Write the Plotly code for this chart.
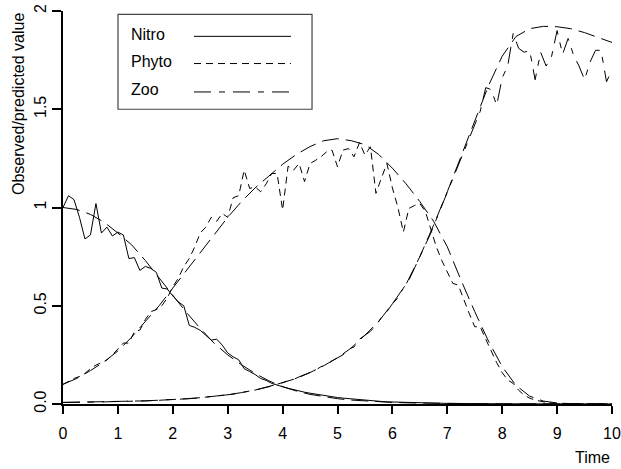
import plotly.graph_objects as go

# ---------------- data ----------------
time_obs = [0.0, 0.1, 0.2, 0.3, 0.4, 0.5, 0.6, 0.7, 0.8, 0.9,
            1.0, 1.1, 1.2, 1.3, 1.4, 1.5, 1.6, 1.7, 1.8, 1.9,
            2.0, 2.1, 2.2, 2.3, 2.4, 2.5, 2.6, 2.7, 2.8, 2.9,
            3.0, 3.1, 3.2, 3.3, 3.4, 3.5, 3.6, 3.7, 3.8, 3.9,
            4.0, 4.1, 4.2, 4.3, 4.4, 4.5, 4.6, 4.7, 4.8, 4.9,
            5.0, 5.1, 5.2, 5.3, 5.4, 5.5, 5.6, 5.7, 5.8, 5.9,
            6.0, 6.1, 6.2, 6.3, 6.4, 6.5, 6.6, 6.7, 6.8, 6.9,
            7.0, 7.1, 7.2, 7.3, 7.4, 7.5, 7.6, 7.7, 7.8, 7.9,
            8.0, 8.1, 8.2, 8.3, 8.4, 8.5, 8.6, 8.7, 8.8, 8.9,
            9.0, 9.1, 9.2, 9.3, 9.4, 9.5, 9.6, 9.7, 9.8, 9.9,
            10.0]

nitro_obs = [1.00, 1.06, 1.04, 0.95, 0.84, 0.86, 1.02, 0.87, 0.90, 0.855,
             0.875, 0.86, 0.74, 0.745, 0.68, 0.70, 0.69, 0.67, 0.59, 0.585,
             0.55, 0.52, 0.50, 0.40, 0.39, 0.375, 0.35, 0.325, 0.33, 0.30,
             0.26, 0.24, 0.225, 0.18, 0.165, 0.15, 0.13, 0.12, 0.105, 0.095,
             0.088, 0.08, 0.072, 0.066, 0.06, 0.055, 0.05, 0.045, 0.04, 0.036,
             0.033, 0.03, 0.027, 0.024, 0.021, 0.019, 0.017, 0.015, 0.013, 0.011,
             0.010, 0.009, 0.008, 0.007, 0.006, 0.005, 0.005, 0.004, 0.004, 0.003,
             0.003, 0.003, 0.002, 0.002, 0.002, 0.002, 0.002, 0.001, 0.001, 0.001,
             0.001, 0.001, 0.001, 0.001, 0.001, 0.0, 0.0, 0.0, 0.0, 0.0,
             0.0, 0.0, 0.0, 0.0, 0.0, 0.0, 0.0, 0.0, 0.0, 0.0,
             0.0]

phyto_obs = [0.10, 0.115, 0.13, 0.14, 0.156, 0.18, 0.198, 0.21, 0.224, 0.25,
             0.28, 0.31, 0.31, 0.368, 0.376, 0.43, 0.47, 0.48, 0.50, 0.54,
             0.597, 0.64, 0.70, 0.74, 0.80, 0.87, 0.90, 0.95, 0.93, 0.97,
             0.95, 1.05, 1.06, 1.19, 1.097, 1.105, 1.08, 1.12, 1.173, 1.173,
             0.987, 1.21, 1.19, 1.224, 1.132, 1.224, 1.24, 1.258, 1.283, 1.292,
             1.207, 1.292, 1.30, 1.258, 1.33, 1.267, 1.309, 1.072, 1.15, 1.224,
             1.10, 1.00, 0.875, 0.995, 1.01, 1.02, 0.98, 0.885, 0.80, 0.73,
             0.67, 0.614, 0.605, 0.53, 0.46, 0.393, 0.393, 0.33, 0.27, 0.21,
             0.16, 0.122, 0.105, 0.07, 0.045, 0.03, 0.02, 0.012, 0.008, 0.005,
             0.003, 0.002, 0.002, 0.001, 0.001, 0.001, 0.001, 0.0, 0.0, 0.0,
             0.0]

zoo_obs = [0.008, 0.008, 0.009, 0.009, 0.009, 0.010, 0.010, 0.011, 0.011, 0.012,
           0.012, 0.013, 0.014, 0.014, 0.015, 0.016, 0.017, 0.018, 0.019, 0.021,
           0.022, 0.024, 0.025, 0.027, 0.029, 0.032, 0.034, 0.037, 0.040, 0.044,
           0.047, 0.050, 0.056, 0.060, 0.066, 0.071, 0.078, 0.085, 0.091, 0.100,
           0.108, 0.118, 0.125, 0.138, 0.150, 0.158, 0.172, 0.190, 0.200, 0.220,
           0.235, 0.250, 0.280, 0.290, 0.330, 0.350, 0.370, 0.400, 0.440, 0.470,
           0.510, 0.540, 0.590, 0.630, 0.690, 0.750, 0.810, 0.870, 0.940, 1.010,
           1.080, 1.150, 1.220, 1.290, 1.350, 1.430, 1.490, 1.610, 1.600, 1.520,
           1.660, 1.720, 1.885, 1.810, 1.790, 1.800, 1.650, 1.790, 1.720, 1.770,
           1.900, 1.780, 1.860, 1.775, 1.720, 1.650, 1.740, 1.800, 1.800, 1.640,
           1.700]

time_pred = [0.0, 0.25, 0.5, 0.75, 1.0, 1.25, 1.5, 1.75, 2.0, 2.25,
             2.5, 2.75, 3.0, 3.25, 3.5, 3.75, 4.0, 4.25, 4.5, 4.75,
             5.0, 5.25, 5.5, 5.75, 6.0, 6.25, 6.5, 6.75, 7.0, 7.25,
             7.5, 7.75, 8.0, 8.25, 8.5, 8.75, 9.0, 9.25, 9.5, 9.75,
             10.0]

nitro_pred = [1.00, 0.99, 0.965, 0.925, 0.87, 0.81, 0.73, 0.64, 0.55, 0.465,
              0.385, 0.31, 0.25, 0.20, 0.155, 0.118, 0.088, 0.066, 0.049, 0.037,
              0.027, 0.020, 0.015, 0.011, 0.008, 0.006, 0.0045, 0.0033, 0.0025, 0.0018,
              0.0013, 0.001, 0.0007, 0.0005, 0.0004, 0.0003, 0.0002, 0.0002, 0.0001, 0.0001,
              0.0001]

phyto_pred = [0.10, 0.13, 0.17, 0.215, 0.27, 0.34, 0.42, 0.50, 0.59, 0.68,
              0.77, 0.86, 0.95, 1.03, 1.10, 1.16, 1.22, 1.27, 1.31, 1.34,
              1.35, 1.34, 1.32, 1.27, 1.20, 1.12, 1.03, 0.93, 0.80, 0.63,
              0.47, 0.32, 0.19, 0.095, 0.04, 0.015, 0.005, 0.002, 0.001, 0.0005,
              0.0002]

zoo_pred = [0.008, 0.009, 0.010, 0.011, 0.012, 0.014, 0.016, 0.019, 0.022, 0.027,
            0.032, 0.039, 0.047, 0.058, 0.071, 0.088, 0.108, 0.13, 0.16, 0.195,
            0.235, 0.285, 0.35, 0.42, 0.51, 0.61, 0.75, 0.91, 1.08, 1.26,
            1.44, 1.62, 1.77, 1.87, 1.91, 1.922, 1.92, 1.91, 1.89, 1.865,
            1.84]

x_ticks = [0, 1, 2, 3, 4, 5, 6, 7, 8, 9, 10]
y_ticks = [0, 0.5, 1, 1.5, 2]
y_tick_text = ["0.0", "0.5", "1", "1.5", "2"]

series_names = ["Nitro", "Phyto", "Zoo"]

# ---------------- styles ----------------
FONT = "Liberation Sans, Arial, Helvetica, sans-serif"
obs_dash = {"Nitro": "solid", "Phyto": "7px,5px", "Zoo": "17px,8px,6px,8px"}
pred_dash = "17px,7px"

fig = go.Figure()

obs_data = {"Nitro": nitro_obs, "Phyto": phyto_obs, "Zoo": zoo_obs}
pred_data = {"Nitro": nitro_pred, "Phyto": phyto_pred, "Zoo": zoo_pred}

for name in series_names:
    fig.add_trace(go.Scatter(x=time_obs, y=obs_data[name], mode="lines",
                             line=dict(color="black", width=1, dash=obs_dash[name]),
                             showlegend=False, name=name + " observed", cliponaxis=False))
for name in series_names:
    fig.add_trace(go.Scatter(x=time_pred, y=pred_data[name], mode="lines",
                             line=dict(color="black", width=1, dash=pred_dash),
                             showlegend=False, name=name + " predicted"))

fig.update_xaxes(range=[0, 10], tickvals=x_ticks, ticks="outside", ticklen=8,
                 tickwidth=1.5, tickcolor="black", showline=True, linecolor="black",
                 linewidth=1.6, showgrid=False, zeroline=False, automargin=False,
                 ticklabelstandoff=6,
                 tickfont=dict(family=FONT, size=16, color="black"))
fig.update_yaxes(range=[0, 2], tickvals=y_ticks, ticktext=y_tick_text, ticks="outside",
                 ticklen=9, tickwidth=1.5, tickcolor="black", showline=True,
                 linecolor="black", linewidth=1.6, showgrid=False, zeroline=False,
                 automargin=False,
                 tickangle=-90, tickfont=dict(family=FONT, size=16, color="black"))

# legend box drawn manually (text left, sample line right)
leg_x0, leg_x1, leg_y0, leg_y1 = 0.1002, 0.4536, 0.750, 0.9916
shapes = [dict(type="rect", xref="paper", yref="paper", x0=leg_x0, x1=leg_x1,
               y0=leg_y0, y1=leg_y1, line=dict(color="#444444", width=1.2),
               fillcolor="white", layer="above")]
row_text_y = [0.9408, 0.8703, 0.8009]
row_line_y = [0.9355, 0.8663, 0.7940]
annotations = []
for name, ty, ly in zip(series_names, row_text_y, row_line_y):
    annotations.append(dict(x=0.1208, y=ty, xref="paper", yref="paper", text=name,
                            showarrow=False, xanchor="left", yanchor="middle",
                            font=dict(family=FONT, size=16, color="black")))
    shapes.append(dict(type="line", xref="paper", yref="paper", x0=0.2386, x1=0.4153,
                       y0=ly, y1=ly, layer="above",
                       line=dict(color="black", width=1, dash=obs_dash[name])))

annotations.append(dict(x=1.0, y=-0.1373, xref="paper", yref="paper", text="Time",
                        showarrow=False, xanchor="right", yanchor="middle",
                        font=dict(family=FONT, size=16, color="black")))
annotations.append(dict(x=-0.082, y=1.0, xref="paper", yref="paper",
                        text="Observed/predicted value", textangle=-90,
                        showarrow=False, xanchor="center", yanchor="top",
                        font=dict(family=FONT, size=16, color="black")))

fig.update_layout(width=621, height=469, margin=dict(l=63, r=9, t=11, b=65),
                  paper_bgcolor="white", plot_bgcolor="white",
                  shapes=shapes, annotations=annotations, showlegend=False)

# remove the default page margin so the 621x469 figure fills the window exactly
fig.write_html("out.html", config={"displayModeBar": False},
               post_script="document.body.style.margin='0';document.body.style.overflow='hidden';")
